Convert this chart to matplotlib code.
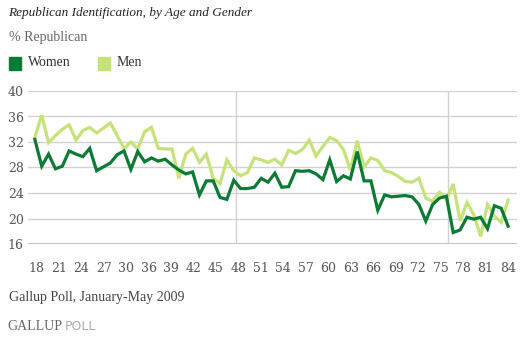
import numpy as np
import matplotlib
matplotlib.use("Agg")
import matplotlib.pyplot as plt
from matplotlib.patches import Rectangle

# % Republican by single year of age
women = [
    32.4, 28.2, 30.1, 27.8, 28.2, 30.6, 30.1, 29.7, 31.0, 27.5,
    28.1, 28.7, 30.0, 30.6, 27.7, 30.5, 28.9, 29.5, 29.0, 29.3,
    28.4, 27.6, 27.0, 27.3, 23.7, 25.9, 25.9, 23.3, 23.0, 26.0,
    24.7, 24.7, 24.9, 26.3, 25.7, 27.1, 24.9, 25.0, 27.5, 27.4,
    27.5, 27.0, 26.1, 29.2, 25.8, 26.7, 26.2, 30.5, 25.9, 25.9,
    21.3, 23.7, 23.4, 23.5, 23.6, 23.4, 22.2, 19.6, 22.2, 23.2,
    23.5, 17.8, 18.2, 20.2, 19.9, 20.2, 18.4, 22.0, 21.6, 18.8,
]
men = [
    32.8, 36.2, 31.9, 33.0, 34.0, 34.7, 32.3, 33.8, 34.3, 33.4,
    34.2, 35.0, 33.0, 31.0, 32.0, 30.9, 33.6, 34.3, 31.0, 30.9,
    30.9, 26.3, 30.1, 31.0, 28.8, 30.1, 26.3, 25.5, 29.2, 27.5,
    26.7, 27.2, 29.5, 29.2, 28.8, 29.3, 28.4, 30.7, 30.2, 30.8,
    32.3, 29.8, 31.3, 32.7, 32.2, 30.8, 27.6, 32.2, 28.1, 29.5,
    29.1, 27.5, 27.2, 26.6, 25.8, 25.7, 26.3, 23.2, 22.7, 24.1,
    23.0, 25.4, 19.6, 22.5, 20.6, 17.2, 22.2, 20.4, 19.4, 22.9,
]
age_labels = ["18", "21", "24", "27", "30", "36", "39", "42", "45", "48", "51",
              "54", "57", "60", "63", "66", "69", "72", "75", "78", "81", "84"]
y_ticks = [16, 20, 24, 28, 32, 36, 40]

WOMEN_COLOR = "#0b7a35"
MEN_COLOR = "#c6e37a"
GRID_COLOR = "#d2d2d2"
SERIF = "DejaVu Serif"
TEXT_SERIF = "Liberation Serif"

fig = plt.figure(figsize=(5.24, 3.40), dpi=100)
ax = fig.add_axes([28 / 524, 1 - 244 / 340, 489 / 524, 153 / 340])

x = np.arange(len(women))
ax.plot(x, men, color=MEN_COLOR, lw=2.3, solid_joinstyle="miter", zorder=3)
ax.plot(x, women, color=WOMEN_COLOR, lw=2.3, solid_joinstyle="miter", zorder=4)

ax.set_ylim(16, 40)
ax.set_xlim(-1.0, 70.3)
ax.set_yticks(y_ticks)
ax.set_yticklabels([str(v) for v in y_ticks])
ax.set_xticks(np.linspace(0.2, len(women) - 1, len(age_labels)))
ax.set_xticklabels(age_labels)

for v in y_ticks[1:]:
    ax.axhline(v, color=GRID_COLOR, lw=1.0, zorder=1)
ax.axhline(16, color="#c4c4c4", lw=2.2, zorder=2)
for xv in [29.4, 60.3]:
    ax.axvline(xv, color=GRID_COLOR, lw=1.0, zorder=1)

for s in ax.spines.values():
    s.set_visible(False)
ax.tick_params(length=0, labelsize=9, labelcolor="#555555")
ax.tick_params(axis="y", pad=3)
ax.tick_params(axis="x", pad=13)
for lab in ax.get_xticklabels() + ax.get_yticklabels():
    lab.set_family(SERIF)

# title and notes
fig.text(8 / 524, 1 - 13 / 340, "Republican Identification, by Age and Gender",
         family=TEXT_SERIF, style="italic", fontsize=9.5, color="#222222", va="center")
fig.text(9 / 524, 1 - 37 / 340, "% Republican", family=TEXT_SERIF, fontsize=10,
         color="#666666", va="center")

# legend squares
for (x0, color, label, tx) in [(9, WOMEN_COLOR, "Women", 28), (98, MEN_COLOR, "Men", 117)]:
    fig.patches.append(Rectangle((x0 / 524, 1 - 70 / 340), 12 / 524, 13 / 340,
                                 transform=fig.transFigure, color=color))
    fig.text(tx / 524, 1 - 63 / 340, label, family=TEXT_SERIF, fontsize=10,
             color="#333333", va="center")

fig.text(9 / 524, 1 - 297 / 340, "Gallup Poll, January-May 2009", family=TEXT_SERIF,
         fontsize=10, color="#444444", va="center")
t = fig.text(7 / 524, 1 - 327 / 340, "GALLUP", family=TEXT_SERIF, fontsize=10,
             color="#666666", va="center")
fig.canvas.draw()
bb = t.get_window_extent()
fig.text(bb.x1 / 524 + 3 / 524, 1 - 327 / 340, "POLL", family="DejaVu Sans",
         fontsize=9, color="#aaaaaa", va="center")

fig.savefig("out.png", dpi=100)
